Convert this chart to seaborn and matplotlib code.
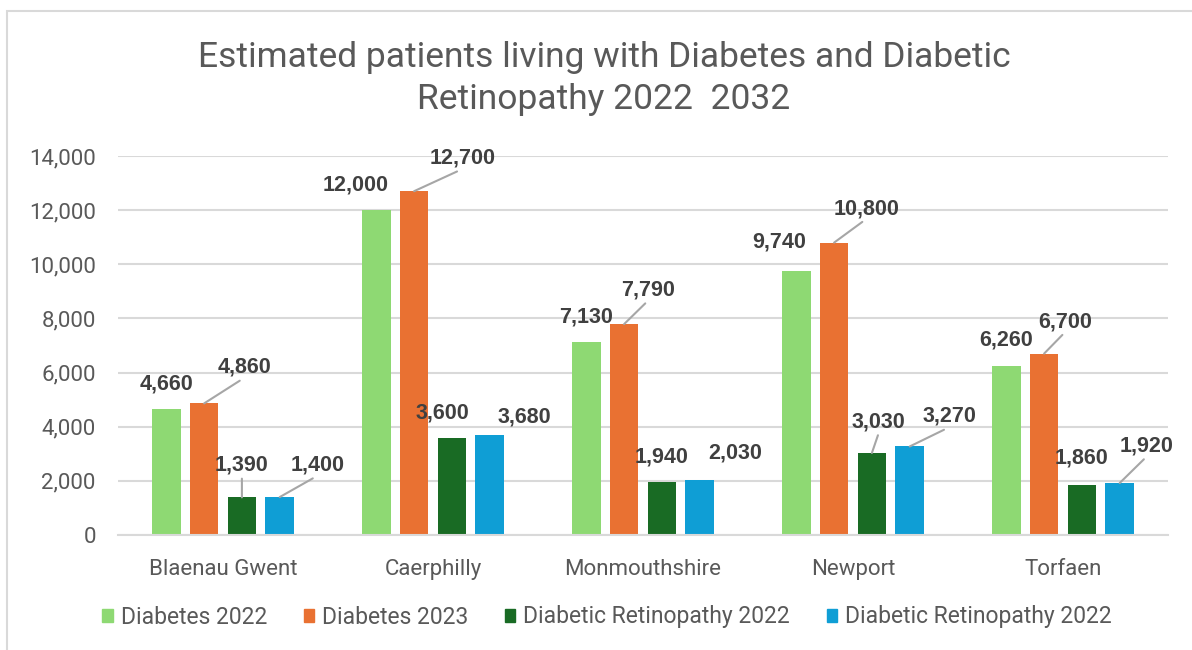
import matplotlib
matplotlib.use("Agg")
import matplotlib.pyplot as plt
from matplotlib.patches import Patch, Rectangle
from matplotlib.ticker import FuncFormatter
import seaborn as sns
import pandas as pd

# -----------------------------
# Data
# -----------------------------
areas = ["Blaenau Gwent", "Caerphilly", "Monmouthshire", "Newport", "Torfaen"]
diabetes_2022 = [4660, 12000, 7130, 9740, 6260]
diabetes_2023 = [4860, 12700, 7790, 10800, 6700]
retinopathy_2022 = [1390, 3600, 1940, 3030, 1860]
retinopathy_2032 = [1400, 3680, 2030, 3270, 1920]

# legend text as shown on the chart (the last one is repeated there)
series_labels = ["Diabetes 2022", "Diabetes 2023",
                 "Diabetic Retinopathy 2022", "Diabetic Retinopathy 2022"]
series_keys = ["d2022", "d2023", "dr2022", "dr2032"]
colors = ["#8ed973", "#e97132", "#196b24", "#0f9ed5"]

# label placement (pixels right / up from the bar top) and leader lines
label_offsets = [
    [(0, 25), (-21, 25), (0, 25), (-17, 29), (0, 26)],
    [(40, 36), (49, 33), (24, 34), (32, 34), (21, 32)],
    [(0, 32), (-9, 25), (0, 25), (7, 31), (0, 27)],
    [(38, 32), (35, 18), (35, 27), (40, 30), (27, 37)],
]
leaders = [
    [0, 0, 0, 0, 0],
    [1, 1, 1, 1, 1],
    [1, 0, 0, 1, 0],
    [1, 0, 0, 1, 1],
]

rows = []
for key, vals in zip(series_keys, [diabetes_2022, diabetes_2023,
                                   retinopathy_2022, retinopathy_2032]):
    for area, v in zip(areas, vals):
        rows.append({"Area": area, "Series": key, "Patients": v})
df = pd.DataFrame(rows)

plt.rcParams["font.family"] = ["Roboto", "DejaVu Sans"]

fig = plt.figure(figsize=(11.92, 6.5), dpi=100)
ax = fig.add_axes([118 / 1192, 1 - 535 / 650, 1050 / 1192, 379 / 650])

sns.barplot(data=df, x="Area", y="Patients", hue="Series", order=areas,
            hue_order=series_keys, palette=colors, saturation=1,
            width=0.72, gap=0.24, linewidth=0, legend=False, ax=ax)

ax.set_ylim(0, 14000)
ax.set_yticks(range(0, 14001, 2000))
ax.yaxis.set_major_formatter(FuncFormatter(lambda v, p: f"{v:,.0f}"))
ax.set_xlabel("")
ax.set_ylabel("")
ax.yaxis.grid(True, color="#d9d9d9", lw=1.5)
ax.set_axisbelow(True)
for s in ["top", "right", "left"]:
    ax.spines[s].set_visible(False)
ax.spines["bottom"].set_color("#d9d9d9")
ax.spines["bottom"].set_linewidth(1.5)
ax.tick_params(axis="y", length=0, labelsize=16, labelcolor="#595959", pad=16)
ax.tick_params(axis="x", length=0, labelsize=16, labelcolor="#595959", pad=17)

# data labels
for i, cont in enumerate(ax.containers):
    for j, bar in enumerate(cont):
        x = bar.get_x() + bar.get_width() / 2
        h = bar.get_height()
        dx, dy = label_offsets[i][j]
        arrow = None
        if leaders[i][j]:
            arrow = dict(arrowstyle="-", color="#a6a6a6", lw=1.5,
                         shrinkA=0, shrinkB=0, relpos=(0.5, 0))
        ax.annotate(f"{h:,.0f}", xy=(x, h), xytext=(dx * 0.72, dy * 0.72),
                    textcoords="offset points", ha="center", va="center",
                    fontsize=15.5, fontweight="bold", color="#404040",
                    family="Liberation Sans", arrowprops=arrow)

fig.text(604 / 1192, 1 - 41 / 650,
         "Estimated patients living with Diabetes and Diabetic\nRetinopathy 2022  2032",
         ha="center", va="top", fontsize=25.5, color="#595959",
         linespacing=1.35)

handles = [Patch(color=c) for c in colors]
fig.legend(handles, series_labels, loc="center",
           bbox_to_anchor=(607 / 1192, 1 - 617 / 650), ncol=4, frameon=False,
           fontsize=16.5, handlelength=0.45, handleheight=0.5,
           handletextpad=0.35, columnspacing=1.6, labelcolor="#595959")

# chart border (cut off at the right and bottom in the screenshot)
fig.patches.append(Rectangle((7 / 1192, -0.1), 1.2, 1.1 - 11 / 650,
                             transform=fig.transFigure, fill=False,
                             edgecolor="#d9d9d9", lw=1.5))

fig.savefig("out.png", dpi=100)
